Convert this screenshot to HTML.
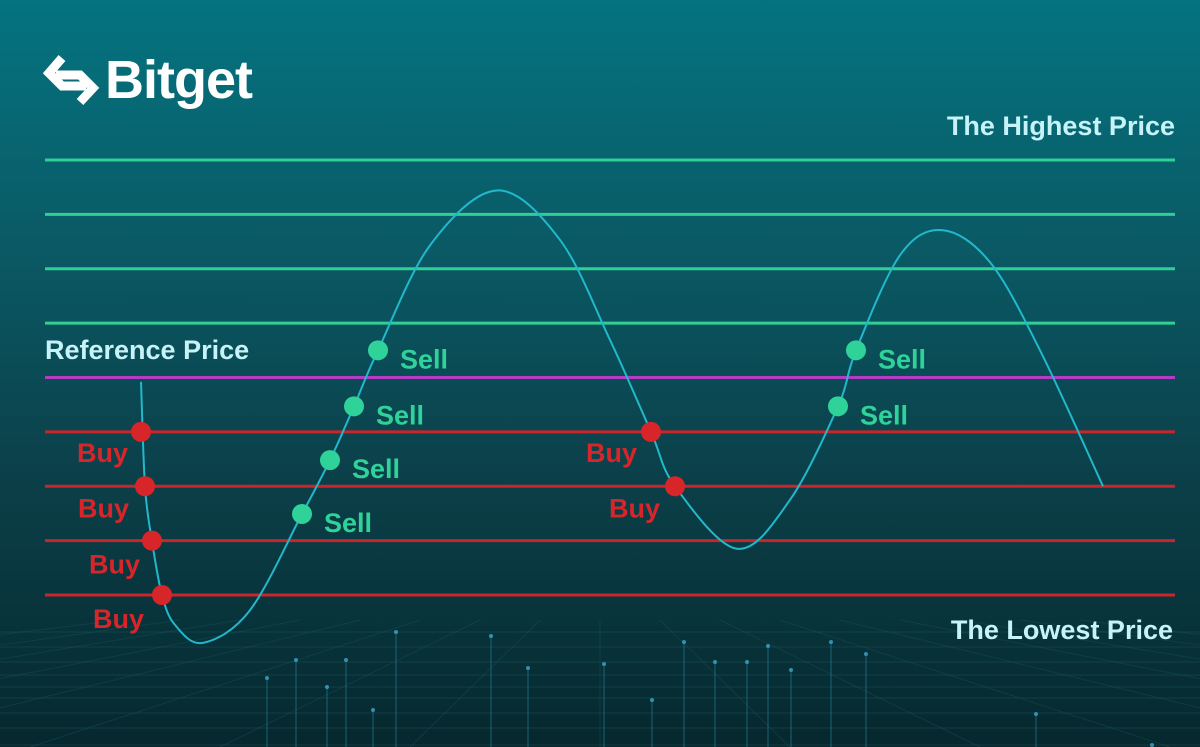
<!DOCTYPE html>
<html><head><meta charset="utf-8">
<style>
html,body{margin:0;padding:0;}
body{width:1200px;height:747px;overflow:hidden;background:linear-gradient(180deg,#047480 0%,#0a5863 35%,#0b3f48 65%,#06282e 100%);font-family:"Liberation Sans",sans-serif;}
svg{display:block;}
</style></head>
<body>
<svg id="chart" width="1200" height="747" viewBox="0 0 1200 747" xmlns="http://www.w3.org/2000/svg">
  <g id="floor"></g>
  <g>
    <g fill="none" stroke="#fff" stroke-width="9" stroke-linejoin="miter">
      <polyline points="62,58 49,73 62,86 86,86"/>
      <polyline points="80,102 93,88 80,75 56,75"/>
    </g>
    <text x="105" y="98" fill="#fff" font-size="54" font-weight="bold" letter-spacing="-1">Bitget</text>
  </g>
  <g id="levels"></g>
  <path id="curve" fill="none" stroke="#22b8cc" stroke-width="2"/>
  <g id="marks"></g>
  <text x="1175" y="135" text-anchor="end" fill="#c6f3f7" font-size="27" font-weight="bold">The Highest Price</text>
  <text x="45" y="359" fill="#c6f3f7" font-size="27" font-weight="bold">Reference Price</text>
  <text x="1173" y="639" text-anchor="end" fill="#c6f3f7" font-size="27" font-weight="bold">The Lowest Price</text>
</svg>
<script>
const levelValues=[1,2,3,4,5,6,7,8,9];
const levelTypes=['buy','buy','buy','buy','ref','sell','sell','sell','sell'];
const curveX=[141,145,152,162,175,203,250,302,330,354,378,430,497,560,610,651,675,737,790,838,856,900,942,990,1040,1103];
const curveV=[4.92,2.99,1.99,1,0.45,0.12,0.72,2.49,3.48,4.47,5.5,7.43,8.44,7.53,5.69,4,3,1.85,2.75,4.47,5.5,7.25,7.71,7.12,5.5,3];
const buyX=[141,145,152,162,651,675];
const buyV=[4,3,2,1,4,3];
const buyLabelDx=[-64,-67,-63,-69,-65,-66];
const buyLabelDy=[30,31,33,33,30,31];
const sellX=[302,330,354,378,838,856];
const sellV=[2.49,3.48,4.47,5.5,4.47,5.5];
const floorH=[632,647,662,675,687,698,713,728,745];
const spikeX=[267,296,327,346,373,396,491,528,604,652,684,715,747,768,791,831,866,1036,1152];
const spikeTop=[678,660,687,660,710,632,636,668,664,700,642,662,662,646,670,642,654,714,745];

const NS='http://www.w3.org/2000/svg';
const yS=v=>595-(v-1)*54.375;
const x0=45,x1=1175;
function mk(tag,attrs,parent){const e=document.createElementNS(NS,tag);for(const k in attrs)e.setAttribute(k,attrs[k]);parent.appendChild(e);return e;}

const floor=document.getElementById('floor');
floorH.forEach(y=>{const l=mk('line',{x1:0,x2:1200,y1:y,y2:y,stroke:'#1d5660','stroke-width':1,opacity:0.45},floor);

});
for(let i=-8;i<=8;i++){const l=mk('line',{x1:600+i*60,y1:620,x2:600+i*190,y2:747,stroke:'#1d5660','stroke-width':1,opacity:0.35},floor);

}
spikeX.forEach((x,i)=>{const l=mk('line',{x1:x,x2:x,y1:spikeTop[i],y2:747,stroke:'#2a8fb0','stroke-width':1,opacity:0.55},floor);


const c=mk('circle',{cx:x,cy:spikeTop[i],r:2,fill:'#3aa8cc',opacity:0.8},floor);

});

const lv=document.getElementById('levels');
const col={buy:'#c8262a',ref:'#b43cc4',sell:'#2fcf95'};
levelValues.forEach((v,i)=>{const l=mk('line',{x1:x0,x2:x1,y1:yS(v),y2:yS(v),stroke:col[levelTypes[i]],'stroke-width':3},lv);

});

const pts=curveX.map((x,i)=>[x,yS(curveV[i])]);
let d='M'+pts[0][0]+','+pts[0][1];
for(let i=0;i<pts.length-1;i++){const p0=pts[Math.max(0,i-1)],p1=pts[i],p2=pts[i+1],p3=pts[Math.min(pts.length-1,i+2)];
const c1=[p1[0]+(p2[0]-p0[0])/6,p1[1]+(p2[1]-p0[1])/6],c2=[p2[0]-(p3[0]-p1[0])/6,p2[1]-(p3[1]-p1[1])/6];
d+=' C'+c1[0].toFixed(1)+','+c1[1].toFixed(1)+' '+c2[0].toFixed(1)+','+c2[1].toFixed(1)+' '+p2[0]+','+p2[1];}
document.getElementById('curve').setAttribute('d',d);

const mg=document.getElementById('marks');
buyX.forEach((x,i)=>{const y=yS(buyV[i]);
const c=mk('circle',{cx:x,cy:y,r:10,fill:'#d8252a'},mg);


const t=mk('text',{x:x+buyLabelDx[i],y:y+buyLabelDy[i],fill:'#d8252a','font-size':27,'font-weight':'bold'},mg);t.textContent='Buy';

});
sellX.forEach((x,i)=>{const y=yS(sellV[i]);
const c=mk('circle',{cx:x,cy:y,r:10,fill:'#2fd39a'},mg);


const t=mk('text',{x:x+22,y:y+18,fill:'#2fd39a','font-size':27,'font-weight':'bold'},mg);t.textContent='Sell';

});
</script>
</body></html>
